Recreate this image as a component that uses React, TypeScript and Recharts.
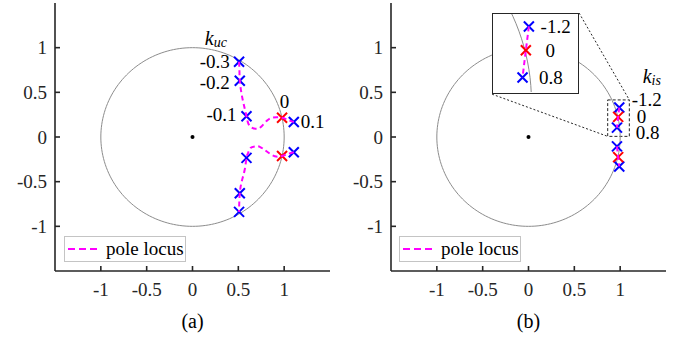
import { ScatterChart, Scatter, XAxis, YAxis, ReferenceArea, ReferenceLine, Legend } from 'recharts';

type Pt = { x: number; y: number };
type Tag = { x: number; y: number; text: string };

const TICKS = [-1, -0.5, 0, 0.5, 1];
const DOMAIN: [number, number] = [-1.5, 1.5];

// stability boundary (unit circle) and origin
const UNIT_CIRCLE: Pt[] = Array.from({ length: 181 }, (_, i) => {
  const t = (i / 180) * 2 * Math.PI;
  return { x: Math.cos(t), y: Math.sin(t) };
});
const ORIGIN: Pt[] = [{ x: 0, y: 0 }];

// (a) poles while sweeping k_uc
const POLES_A_BLUE: Pt[] = [
  { x: 0.508, y: 0.842 }, { x: 0.516, y: 0.63 }, { x: 0.589, y: 0.232 }, { x: 1.105, y: 0.167 },
  { x: 0.508, y: -0.838 }, { x: 0.516, y: -0.63 }, { x: 0.589, y: -0.234 }, { x: 1.105, y: -0.171 },
];
const POLES_A_RED: Pt[] = [{ x: 0.977, y: 0.215 }, { x: 0.977, y: -0.212 }];
const LOCUS_A_UP: Pt[] = [
  { x: 0.508, y: 0.842 }, { x: 0.512, y: 0.74 }, { x: 0.516, y: 0.63 }, { x: 0.534, y: 0.49 },
  { x: 0.56, y: 0.36 }, { x: 0.589, y: 0.232 }, { x: 0.607, y: 0.156 }, { x: 0.643, y: 0.107 },
  { x: 0.7, y: 0.092 }, { x: 0.752, y: 0.118 }, { x: 0.814, y: 0.185 }, { x: 0.88, y: 0.218 },
  { x: 0.977, y: 0.215 }, { x: 1.04, y: 0.19 }, { x: 1.105, y: 0.167 },
];
const LOCUS_A_DOWN: Pt[] = [
  { x: 1.105, y: -0.171 }, { x: 1.04, y: -0.19 }, { x: 0.977, y: -0.212 }, { x: 0.897, y: -0.215 },
  { x: 0.807, y: -0.16 }, { x: 0.734, y: -0.11 }, { x: 0.68, y: -0.105 }, { x: 0.632, y: -0.123 },
  { x: 0.607, y: -0.178 }, { x: 0.589, y: -0.234 }, { x: 0.57, y: -0.364 }, { x: 0.534, y: -0.51 },
  { x: 0.516, y: -0.63 }, { x: 0.51, y: -0.74 }, { x: 0.508, y: -0.838 },
];
const GAINS_A_LEFT: Tag[] = [
  { x: 0.407, y: 0.772, text: '-0.3' },
  { x: 0.407, y: 0.534, text: '-0.2' },
  { x: 0.48, y: 0.174, text: '-0.1' },
];
const GAINS_A_RIGHT: Tag[] = [
  { x: 0.952, y: 0.323, text: '0' },
  { x: 1.181, y: 0.1, text: '0.1' },
];
const SYMBOL_A: Tag[] = [{ x: 0.134, y: 1.028, text: 'uc' }];

// (b) poles while sweeping k_is
const POLES_B_BLUE: Pt[] = [
  { x: 0.99, y: 0.33 }, { x: 0.965, y: 0.105 }, { x: 0.965, y: -0.105 }, { x: 0.99, y: -0.33 },
];
const POLES_B_RED: Pt[] = [{ x: 0.978, y: 0.225 }, { x: 0.978, y: -0.225 }];
const LOCUS_B_UP: Pt[] = [{ x: 0.99, y: 0.33 }, { x: 0.978, y: 0.225 }, { x: 0.965, y: 0.105 }];
const LOCUS_B_DOWN: Pt[] = [{ x: 0.965, y: -0.105 }, { x: 0.978, y: -0.225 }, { x: 0.99, y: -0.33 }];
const GAINS_B: Tag[] = [
  { x: 1.125, y: 0.349, text: '-1.2' },
  { x: 1.18, y: 0.156, text: '0' },
  { x: 1.17, y: -0.02, text: '0.8' },
];
const SYMBOL_B: Tag[] = [{ x: 1.245, y: 0.6, text: 'is' }];
const GAINS_INSET: Tag[] = [
  { x: 1.036, y: 0.3, text: '-1.2' },
  { x: 1.055, y: 0.196, text: '0' },
  { x: 1.03, y: 0.075, text: '0.8' },
];

// zoom window and where the inset sits (data units of panel b)
const ZOOM_BOX = { x1: 0.864, x2: 1.1, y1: 0.007, y2: 0.415 };
const INSET_BOX = { x1: -0.397, x2: 0.552, y1: 0.479, y2: 1.388 };
const INSET_X: [number, number] = [0.849, 1.179];
const INSET_Y: [number, number] = [0.04, 0.385];

const FONT = 'Liberation Serif';
const INK = '#262626';
const AX = { stroke: INK, strokeWidth: 1.6 };
const TICK = { fill: INK, fontSize: 19, fontFamily: FONT };

const CH_W = 343;
const CH_H = 340;
const PLOT_TOP = 3;
const PLOT_H = 268;
const PLOT_W = 275;
const B_LEFT = CH_W + 48;

const cross = (color: string) => (p: any) => {
  const r = 5;
  return (
    <g stroke={color} strokeWidth={2}>
      <line x1={p.cx - r} y1={p.cy - r} x2={p.cx + r} y2={p.cy + r} />
      <line x1={p.cx - r} y1={p.cy + r} x2={p.cx + r} y2={p.cy - r} />
    </g>
  );
};

const textAt = (anchor: 'start' | 'end') => (p: any) => (
  <text x={p.cx} y={p.cy} textAnchor={anchor} fontFamily={FONT} fontSize={19} fill="#000">
    {p.payload.text}
  </text>
);

const symbolAt = (p: any) => (
  <text x={p.cx} y={p.cy} fontFamily={FONT} fontSize={20} fontStyle="italic" fill="#000">
    k<tspan fontSize={14} dy={2}>{p.payload.text}</tspan>
  </text>
);

const none = () => <g />;
const dot = (p: any) => <circle cx={p.cx} cy={p.cy} r={2} fill="#000" />;

const LegendBox = () => (
  <div
    style={{
      width: 122, height: 26, boxSizing: 'border-box', border: '1px solid #c4c4c4', background: '#fff',
      display: 'flex', alignItems: 'center', fontFamily: FONT, fontSize: 19, color: '#000',
    }}
  >
    <svg width={34} height={4} style={{ marginLeft: 3 }}>
      <line x1={0} y1={2} x2={32} y2={2} stroke="#ff00ff" strokeWidth={2} strokeDasharray="7 4" />
    </svg>
    <span style={{ marginLeft: 4 }}>pole locus</span>
  </div>
);

function frame(caption: string, yWidth: number) {
  return [
    <XAxis
      key="xb"
      type="number"
      dataKey="x"
      domain={DOMAIN}
      ticks={TICKS}
      height={60}
      tickSize={-5}
      tickMargin={17}
      axisLine={AX}
      tickLine={AX}
      tick={TICK}
      allowDataOverflow
      label={{ value: caption, position: 'insideBottom', offset: 3, fill: '#000', fontSize: 20, fontFamily: FONT }}
    />,
    <XAxis
      key="xt"
      xAxisId="top"
      orientation="top"
      type="number"
      dataKey="x"
      domain={DOMAIN}
      ticks={TICKS}
      height={0}
      tickSize={-4}
      axisLine={AX}
      tickLine={AX}
      tick={false}
      allowDataOverflow
    />,
    <YAxis
      key="yl"
      type="number"
      dataKey="y"
      domain={DOMAIN}
      ticks={TICKS}
      width={yWidth}
      tickSize={-5}
      tickMargin={13}
      axisLine={AX}
      tickLine={AX}
      tick={TICK}
      allowDataOverflow
    />,
    <YAxis
      key="yr"
      yAxisId="right"
      orientation="right"
      type="number"
      dataKey="y"
      domain={DOMAIN}
      ticks={TICKS}
      width={0}
      tickSize={-4}
      axisLine={AX}
      tickLine={AX}
      tick={false}
      allowDataOverflow
    />,
  ];
}

const locusLine = { stroke: '#ff00ff', strokeWidth: 2, strokeDasharray: '5 3.5' };
const circleLine = { stroke: '#8c8c8c', strokeWidth: 1 };

export default function App() {
  // pixel box of the inset, from panel (b) scale
  const sx = (x: number) => B_LEFT + ((x - DOMAIN[0]) / (DOMAIN[1] - DOMAIN[0])) * PLOT_W;
  const sy = (y: number) => PLOT_TOP + ((DOMAIN[1] - y) / (DOMAIN[1] - DOMAIN[0])) * PLOT_H;
  const inL = sx(INSET_BOX.x1);
  const inT = sy(INSET_BOX.y2);
  const inW = sx(INSET_BOX.x2) - inL;
  const inH = sy(INSET_BOX.y1) - inT;

  return (
    <div style={{ position: 'absolute', left: 0, top: 0, width: 686, height: 340, background: '#fff' }}>
      <div style={{ position: 'absolute', left: 0, top: 0 }}>
        <ScatterChart width={CH_W} height={CH_H} margin={{ top: PLOT_TOP, right: 13, bottom: 9, left: 5 }}>
          {frame('(a)', 50)}
          <Scatter data={UNIT_CIRCLE} line={circleLine} shape={none} isAnimationActive={false} />
          <Scatter data={ORIGIN} shape={dot} isAnimationActive={false} />
          <Scatter data={POLES_A_BLUE} shape={cross('#0000ff')} isAnimationActive={false} />
          <Scatter data={POLES_A_RED} shape={cross('#ff0000')} isAnimationActive={false} />
          <Scatter data={LOCUS_A_UP} line={locusLine} lineJointType="natural" shape={none} isAnimationActive={false} />
          <Scatter data={LOCUS_A_DOWN} line={locusLine} lineJointType="natural" shape={none} isAnimationActive={false} />
          <Scatter data={GAINS_A_LEFT} shape={textAt('end')} isAnimationActive={false} />
          <Scatter data={GAINS_A_RIGHT} shape={textAt('start')} isAnimationActive={false} />
          <Scatter data={SYMBOL_A} shape={symbolAt} isAnimationActive={false} />
          <Legend
            layout="horizontal"
            verticalAlign="middle"
            align="center"
            width={122}
            wrapperStyle={{ left: 64, top: 236 }}
            content={() => <LegendBox />}
          />
        </ScatterChart>
      </div>
      <div style={{ position: 'absolute', left: CH_W, top: 0 }}>
        <ScatterChart width={CH_W} height={CH_H} margin={{ top: PLOT_TOP, right: 20, bottom: 9, left: 5 }}>
          {frame('(b)', 43)}
          <Scatter data={UNIT_CIRCLE} line={circleLine} shape={none} isAnimationActive={false} />
          <Scatter data={ORIGIN} shape={dot} isAnimationActive={false} />
          <ReferenceArea
            x1={ZOOM_BOX.x1}
            x2={ZOOM_BOX.x2}
            y1={ZOOM_BOX.y1}
            y2={ZOOM_BOX.y2}
            fill="none"
            stroke={INK}
            strokeWidth={1}
            strokeDasharray="3 2"
          />
          <ReferenceLine
            segment={[{ x: INSET_BOX.x2, y: INSET_BOX.y2 }, { x: ZOOM_BOX.x2, y: ZOOM_BOX.y2 }]}
            stroke={INK}
            strokeWidth={1}
            strokeDasharray="2 2"
          />
          <ReferenceLine
            segment={[{ x: INSET_BOX.x1, y: INSET_BOX.y1 }, { x: ZOOM_BOX.x1, y: ZOOM_BOX.y1 }]}
            stroke={INK}
            strokeWidth={1}
            strokeDasharray="2 2"
          />
          <Scatter data={POLES_B_BLUE} shape={cross('#0000ff')} isAnimationActive={false} />
          <Scatter data={POLES_B_RED} shape={cross('#ff0000')} isAnimationActive={false} />
          <Scatter data={LOCUS_B_UP} line={locusLine} shape={none} isAnimationActive={false} />
          <Scatter data={LOCUS_B_DOWN} line={locusLine} shape={none} isAnimationActive={false} />
          <Scatter data={GAINS_B} shape={textAt('start')} isAnimationActive={false} />
          <Scatter data={SYMBOL_B} shape={symbolAt} isAnimationActive={false} />
          <Legend
            layout="horizontal"
            verticalAlign="middle"
            align="center"
            width={122}
            wrapperStyle={{ left: 56, top: 236 }}
            content={() => <LegendBox />}
          />
        </ScatterChart>
      </div>
      <div
        style={{
          position: 'absolute', left: inL, top: inT, width: inW, height: inH, boxSizing: 'border-box',
          border: `1.5px solid ${INK}`, background: '#fff', overflow: 'hidden',
        }}
      >
        <ScatterChart width={inW - 3} height={inH - 3} margin={{ top: 0, right: 0, bottom: 0, left: 0 }}>
          <XAxis type="number" dataKey="x" domain={INSET_X} hide allowDataOverflow height={0} />
          <YAxis type="number" dataKey="y" domain={INSET_Y} hide allowDataOverflow width={0} />
          <Scatter data={UNIT_CIRCLE} line={circleLine} shape={none} isAnimationActive={false} />
          <Scatter data={POLES_B_BLUE} shape={cross('#0000ff')} isAnimationActive={false} />
          <Scatter data={POLES_B_RED} shape={cross('#ff0000')} isAnimationActive={false} />
          <Scatter data={LOCUS_B_UP} line={locusLine} shape={none} isAnimationActive={false} />
          <Scatter data={GAINS_INSET} shape={textAt('start')} isAnimationActive={false} />
        </ScatterChart>
      </div>
    </div>
  );
}
